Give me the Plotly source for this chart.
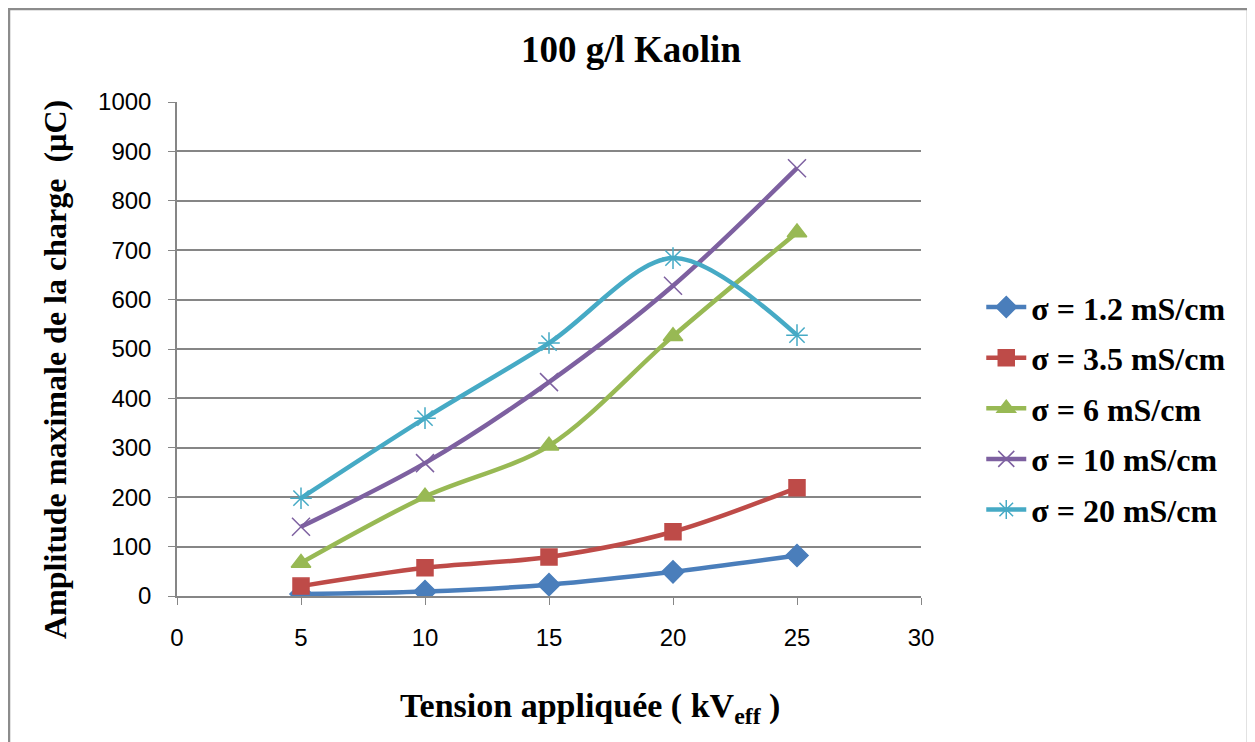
import plotly.graph_objects as go

# tension appliquée (kV eff)
tension = [5, 10, 15, 20, 25]

# amplitude maximale de la charge (µC) pour chaque conductivité
q_1_2 = [4, 9, 23, 49, 82]
q_3_5 = [20, 57, 79, 130, 219]
q_6 = [67, 201, 304, 526, 736]
q_10 = [140, 269, 433, 628, 866]
q_20 = [198, 360, 512, 684, 528]

noms = ["σ = 1.2 mS/cm", "σ = 3.5 mS/cm", "σ = 6 mS/cm", "σ = 10 mS/cm", "σ = 20 mS/cm"]
couleurs = ["#4A7EBB", "#BE4B48", "#98B954", "#7D60A0", "#46AAC5"]
symboles = ["diamond", "square", "triangle-up", "x-thin-open", "asterisk-open"]
tailles = [17, 16, 17, 18, 18]

serif = "Liberation Serif, Times New Roman, serif"
sans = "Liberation Sans, Arial, sans-serif"

fig = go.Figure()
for i, (q, nom, c, s, t) in enumerate(zip([q_1_2, q_3_5, q_6, q_10, q_20], noms, couleurs, symboles, tailles)):
    fig.add_trace(go.Scatter(
        x=tension, y=q, name="<b>" + nom + "</b>", mode="lines+markers",
        legendgroup="g%d" % i,
        line=dict(color=c, width=4.5, shape="spline", smoothing=0.9),
        marker=dict(symbol=s, size=t, color=c, line=dict(color=c, width=1.5)),
    ))

# cadre autour du graphique
fig.add_shape(type="rect", xref="paper", yref="paper",
              x0=(1 - 169) / 744, x1=(1240 - 169) / 744,
              y0=(588 - 760) / 494, y1=(588 - 1) / 494,
              line=dict(color="#8C8C8C", width=2.5), fillcolor="rgba(0,0,0,0)", layer="below")

# titres des axes
fig.add_annotation(text="<b>Tension appliquée ( kV<sub>eff</sub> )</b>", xref="paper", yref="paper",
                   x=(582 - 169) / 744, y=(588 - 700) / 494, xanchor="center", yanchor="middle",
                   showarrow=False, font=dict(family=serif, size=34, color="black"))
fig.add_annotation(text="<b>Amplitude maximale de la charge  (µC)</b>", xref="paper", yref="paper",
                   x=(47 - 169) / 744, y=(588 - 362) / 494, xanchor="center", yanchor="middle",
                   textangle=-90, showarrow=False, font=dict(family=serif, size=32, color="black"))

fig.update_layout(
    width=1255, height=742,
    margin=dict(l=169, r=342, t=94, b=154),
    paper_bgcolor="white", plot_bgcolor="white",
    title=dict(text="<b>100 g/l Kaolin</b>", x=623 / 1255, xanchor="center",
               y=1 - 41 / 742, yanchor="middle",
               font=dict(family=serif, size=37, color="black")),
    legend=dict(x=1.081, y=0.38, yanchor="middle", xanchor="left",
                font=dict(family=serif, size=32, color="black"),
                tracegroupgap=6, itemwidth=40, bgcolor="rgba(0,0,0,0)"),
    showlegend=True,
)

fig.update_xaxes(
    range=[0, 30], dtick=5, tick0=0, showgrid=False, zeroline=False,
    showline=True, linecolor="#868686", linewidth=1.5,
    ticks="outside", ticklen=7, tickcolor="#868686", ticklabelstandoff=12,
    tickfont=dict(family=sans, size=24, color="black"),
)
fig.update_yaxes(
    range=[0, 1000], dtick=100, tick0=0, showgrid=True, gridcolor="#868686", gridwidth=1.5,
    zeroline=False, showline=True, linecolor="#868686", linewidth=1.5,
    ticks="outside", ticklen=7, tickcolor="#868686", ticklabelstandoff=12,
    tickfont=dict(family=sans, size=24, color="black"),
)

fig.write_html("out.html")
